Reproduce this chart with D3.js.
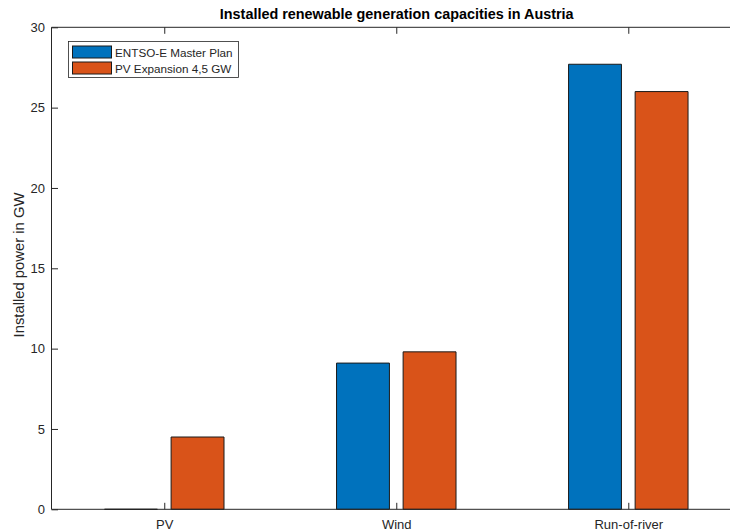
<!DOCTYPE html>
<html>
<head>
<meta charset="utf-8">
<script src="https://cdn.jsdelivr.net/npm/d3@7"></script>
<style>
  html, body { margin: 0; padding: 0; background: #fff; }
  svg { display: block; font-family: "Liberation Sans", Arial, Helvetica, sans-serif; }
</style>
</head>
<body>
<svg id="chart" width="730" height="531"></svg>
<script>
// Installed capacities (GW) per technology and scenario
const categories = ["PV", "Wind", "Run-of-river"];
const seriesNames = ["ENTSO-E Master Plan", "PV Expansion 4,5 GW"];
const entsoeMasterPlan = [0, 9.1, 27.7];
const pvExpansion = [4.5, 9.8, 26.0];
const yTicks = [0, 5, 10, 15, 20, 25, 30];
const seriesColors = ["#0072BD", "#D95319"];

const series = [entsoeMasterPlan, pvExpansion];

const svg = d3.select("#chart");
const axisColor = "#262626";
const tickFont = "13px";

const plot = { left: 51.5, right: 744.3, top: 27.3, bottom: 509.3 };

// Category positions 1..n on a continuous axis
const x = d3.scaleLinear().domain([0.514, 3.5]).range([plot.left, plot.right]);
const y = d3.scaleLinear().domain([0, 30]).range([plot.bottom, plot.top]);

const barWidth = 0.228;   // in category units
const groupOffset = 0.1435;

// Bars (drawn as paths so zero-height bars still show their outline)
series.forEach((vals, si) => {
  const off = si === 0 ? -groupOffset : groupOffset;
  svg.append("g")
    .selectAll("path")
    .data(vals)
    .join("path")
    .attr("d", (v, i) => {
      const cx = i + 1 + off;
      const x0 = x(cx - barWidth / 2), x1 = x(cx + barWidth / 2);
      const y0 = y(0), y1 = y(v);
      return `M${x0},${y0}L${x0},${y1}L${x1},${y1}L${x1},${y0}Z`;
    })
    .attr("fill", seriesColors[si])
    .attr("stroke", "#1a1a1a")
    .attr("stroke-width", 1);
});

// Axes
const tickLen = 6.5;
const catTicks = categories.map((c, i) => i + 1);

const yAxis = d3.axisLeft(y).tickValues(yTicks).tickSize(-tickLen).tickPadding(6.5);
const gy = svg.append("g").attr("transform", `translate(${plot.left},0)`).call(yAxis);

const xAxis = d3.axisBottom(x).tickValues(catTicks)
  .tickFormat((d) => categories[d - 1])
  .tickSize(-tickLen).tickPadding(10);
const gx = svg.append("g").attr("transform", `translate(0,${plot.bottom})`).call(xAxis);

const xTop = d3.axisTop(x).tickValues(catTicks).tickFormat("").tickSize(-tickLen);
const gxt = svg.append("g").attr("transform", `translate(0,${plot.top})`).call(xTop);

[gy, gx, gxt].forEach((g) => {
  g.select(".domain").attr("stroke", axisColor).attr("stroke-width", 1);
  g.selectAll(".tick line").attr("stroke", axisColor).attr("stroke-width", 1);
  g.selectAll(".tick text").attr("fill", axisColor).style("font-size", tickFont);
});
// flat domain ends
gy.select(".domain").attr("d", `M0,${plot.top}V${plot.bottom}`);
gx.select(".domain").attr("d", `M${plot.left},0H${plot.right}`);
gxt.select(".domain").attr("d", `M${plot.left},0H${plot.right}`);

// Title
svg.append("text")
  .attr("x", 396.7)
  .attr("y", 19)
  .attr("text-anchor", "middle")
  .attr("fill", "#000")
  .style("font-size", "14.4px")
  .style("font-weight", "bold")
  .text("Installed renewable generation capacities in Austria");

// Y axis label
svg.append("text")
  .attr("transform", "translate(24.2,265) rotate(-90)")
  .attr("text-anchor", "middle")
  .attr("fill", axisColor)
  .style("font-size", "14.8px")
  .text("Installed power in GW");

// Legend
const legend = svg.append("g").attr("transform", "translate(68.5,41.5)");
legend.append("rect")
  .attr("width", 170).attr("height", 36)
  .attr("fill", "#fff").attr("stroke", axisColor).attr("stroke-width", 0.8);
seriesNames.forEach((name, i) => {
  const row = legend.append("g").attr("transform", `translate(0,${4.5 + i * 16})`);
  row.append("rect")
    .attr("x", 4).attr("y", 0).attr("width", 39).attr("height", 12)
    .attr("fill", seriesColors[i]).attr("stroke", "#1a1a1a").attr("stroke-width", 1);
  row.append("text")
    .attr("x", 46.5).attr("y", 10.5)
    .attr("fill", axisColor)
    .style("font-size", "11.7px")
    .text(name);
});
</script>
</body>
</html>
